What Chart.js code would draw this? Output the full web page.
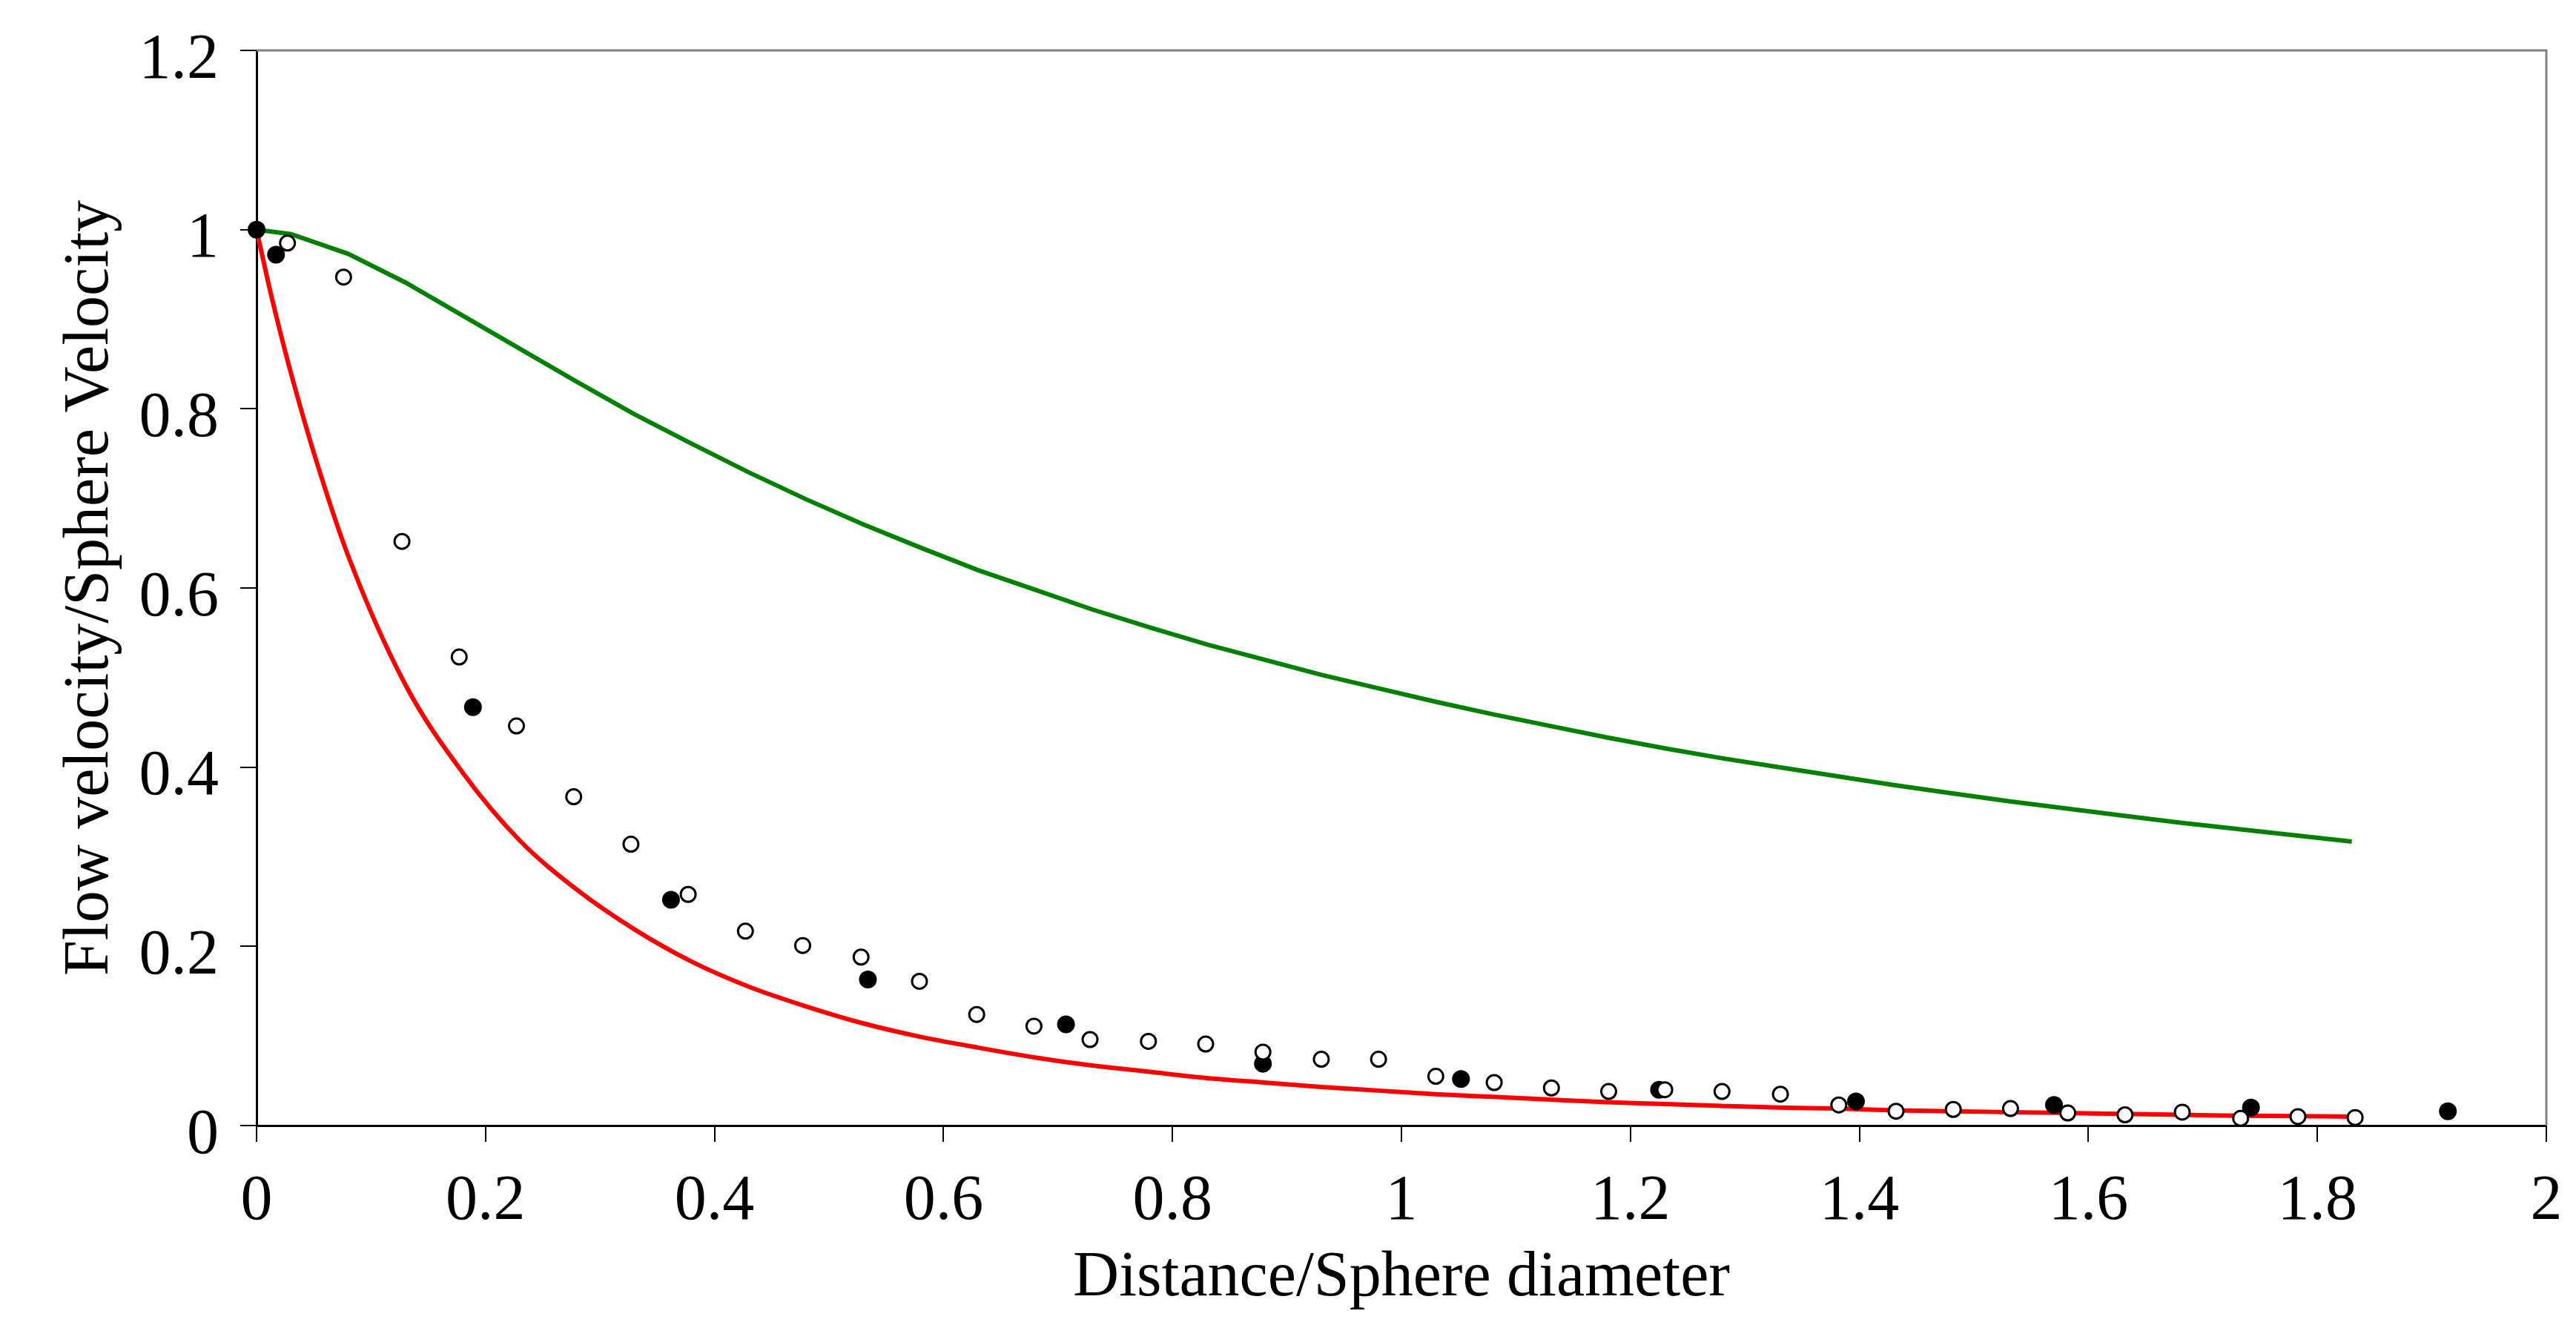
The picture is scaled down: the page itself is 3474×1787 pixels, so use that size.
<!DOCTYPE html>
<html lang="en">
<head>
    <meta charset="UTF-8">
    <title>Flow velocity vs distance</title>
    <script src="https://cdn.jsdelivr.net/npm/chart.js"></script>
    <style>
        html, body { margin: 0; padding: 0; background: #fff; }
        #chart { display: block; }
    </style>
</head>
<body>
    <canvas id="chart" width="3474" height="1787"></canvas>

    <script>
        // Stokes-type curve (green)
        const greenX = [0, 0.03, 0.08, 0.13, 0.18, 0.23, 0.28, 0.33, 0.38, 0.43, 0.48, 0.53, 0.58, 0.63, 0.68, 0.73, 0.78, 0.83, 0.88, 0.93,
                        0.98, 1.03, 1.08, 1.13, 1.18, 1.23, 1.28, 1.33, 1.38, 1.43, 1.48, 1.53, 1.58, 1.63, 1.68, 1.73, 1.78, 1.83];
        const greenY = [1.0, 0.995, 0.973, 0.941, 0.904, 0.867, 0.830, 0.794, 0.761, 0.729, 0.699, 0.671, 0.645, 0.620, 0.598, 0.576, 0.556, 0.537, 0.520, 0.503,
                        0.488, 0.473, 0.459, 0.446, 0.433, 0.421, 0.410, 0.400, 0.390, 0.380, 0.371, 0.362, 0.354, 0.346, 0.338, 0.331, 0.324, 0.317];

        // potential-flow-type curve (red)
        const redX = [0, 0.01, 0.02, 0.03, 0.05, 0.08, 0.13, 0.18, 0.23, 0.28, 0.33, 0.38, 0.43, 0.48, 0.53, 0.58, 0.63, 0.68, 0.73, 0.78, 0.83, 0.88, 0.93,
                      0.98, 1.03, 1.08, 1.13, 1.18, 1.23, 1.28, 1.33, 1.38, 1.43, 1.48, 1.53, 1.58, 1.63, 1.68, 1.73, 1.78, 1.83];
        const redY = [1.0, 0.942, 0.889, 0.840, 0.751, 0.636, 0.492, 0.394, 0.318, 0.263, 0.219, 0.183, 0.155, 0.133, 0.114, 0.099, 0.087, 0.076, 0.067, 0.060, 0.053, 0.048, 0.043,
                      0.039, 0.035, 0.032, 0.029, 0.026, 0.024, 0.022, 0.020, 0.019, 0.017, 0.016, 0.015, 0.014, 0.013, 0.012, 0.011, 0.0105, 0.0099];

        // measured points, filled circles
        const filledX = [0, 0.017, 0.189, 0.362, 0.534, 0.707, 0.879, 1.052, 1.225, 1.397, 1.570, 1.742, 1.914];
        const filledY = [1.0, 0.972, 0.467, 0.252, 0.163, 0.113, 0.069, 0.052, 0.040, 0.027, 0.023, 0.020, 0.016];

        // measured points, open circles
        const openX = [0.027, 0.076, 0.127, 0.177, 0.227, 0.277, 0.327, 0.377, 0.427, 0.477, 0.528, 0.579, 0.629, 0.679, 0.728, 0.779, 0.829, 0.879, 0.930,
                       0.980, 1.030, 1.081, 1.131, 1.181, 1.230, 1.280, 1.331, 1.382, 1.432, 1.482, 1.532, 1.582, 1.632, 1.682, 1.733, 1.783, 1.833];
        const openY = [0.985, 0.947, 0.652, 0.523, 0.446, 0.367, 0.314, 0.258, 0.217, 0.201, 0.188, 0.161, 0.124, 0.111, 0.096, 0.094, 0.091, 0.082, 0.074,
                       0.074, 0.055, 0.048, 0.042, 0.038, 0.040, 0.038, 0.035, 0.023, 0.016, 0.018, 0.019, 0.014, 0.012, 0.015, 0.008, 0.010, 0.009];

        const xTitle = "Distance/Sphere diameter";
        const yTitle = "Flow velocity/Sphere Velocity";

        const toPoints = (xs, ys) => xs.map((x, i) => ({ x: x, y: ys[i] }));

        const serif = "'Liberation Serif', 'Times New Roman', serif";

        // gray frame on top and right of the plot area
        const framePlugin = {
            id: 'frame',
            beforeDatasetsDraw(chart) {
                const { ctx, chartArea: a } = chart;
                ctx.save();
                ctx.strokeStyle = '#808080';
                ctx.lineWidth = 3;
                ctx.beginPath();
                ctx.moveTo(a.left, a.top);
                ctx.lineTo(a.right, a.top);
                ctx.lineTo(a.right, a.bottom);
                ctx.stroke();
                ctx.restore();
            }
        };

        const ctx = document.getElementById("chart").getContext("2d");

        new Chart(ctx, {
            type: 'scatter',
            data: {
                datasets: [
                    {
                        label: "Open",
                        data: toPoints(openX, openY),
                        pointRadius: 10,
                        pointBorderWidth: 3,
                        pointBackgroundColor: '#ffffff',
                        pointBorderColor: '#000000',
                        showLine: false,
                        clip: false,
                        order: 1
                    },
                    {
                        label: "Filled",
                        data: toPoints(filledX, filledY),
                        pointRadius: 12,
                        pointBorderWidth: 0,
                        pointBackgroundColor: '#000000',
                        pointBorderColor: '#000000',
                        showLine: false,
                        clip: false,
                        order: 2
                    },
                    {
                        label: "Green",
                        data: toPoints(greenX, greenY),
                        showLine: true,
                        borderColor: '#008000',
                        borderWidth: 6,
                        pointRadius: 0,
                        tension: 0,
                        order: 3
                    },
                    {
                        label: "Red",
                        data: toPoints(redX, redY),
                        showLine: true,
                        borderColor: '#ff0000',
                        borderWidth: 6,
                        pointRadius: 0,
                        cubicInterpolationMode: 'monotone',
                        order: 4
                    }
                ]
            },
            options: {
                responsive: false,
                animation: false,
                devicePixelRatio: 1,
                layout: { padding: { top: 68, right: 40, left: 0, bottom: 0 } },
                plugins: {
                    legend: { display: false },
                    tooltip: { enabled: false }
                },
                scales: {
                    x: {
                        type: 'linear',
                        min: 0,
                        max: 2,
                        afterFit: (scale) => {
                            scale.height = 269;
                            scale.paddingLeft = 0;
                            scale.paddingRight = 0;
                        },
                        ticks: {
                            stepSize: 0.2,
                            padding: 30,
                            color: '#000',
                            font: { family: serif, size: 86 },
                            maxRotation: 0,
                            callback: (v) => String(+v.toFixed(1))
                        },
                        grid: { drawOnChartArea: false, drawTicks: true, tickLength: 22, color: '#000', lineWidth: 2 },
                        border: { display: true, color: '#000', width: 3 },
                        title: {
                            display: true,
                            text: xTitle,
                            color: '#000',
                            font: { family: serif, size: 86 },
                            padding: { top: 0, bottom: 11 }
                        }
                    },
                    y: {
                        type: 'linear',
                        min: 0,
                        max: 1.2,
                        afterFit: (scale) => {
                            scale.width = 346;
                            scale.paddingTop = 0;
                            scale.paddingBottom = 0;
                        },
                        ticks: {
                            stepSize: 0.2,
                            padding: 29,
                            labelOffset: 14,
                            color: '#000',
                            font: { family: serif, size: 86 },
                            callback: (v) => String(+v.toFixed(1))
                        },
                        grid: { drawOnChartArea: false, drawTicks: true, tickLength: 22, color: '#000', lineWidth: 2 },
                        border: { display: true, color: '#000', width: 3 },
                        title: {
                            display: true,
                            text: yTitle,
                            color: '#000',
                            font: { family: serif, size: 86 },
                            padding: { top: 71, bottom: 0 }
                        }
                    }
                }
            },
            plugins: [framePlugin]
        });
    </script>
</body>
</html>
